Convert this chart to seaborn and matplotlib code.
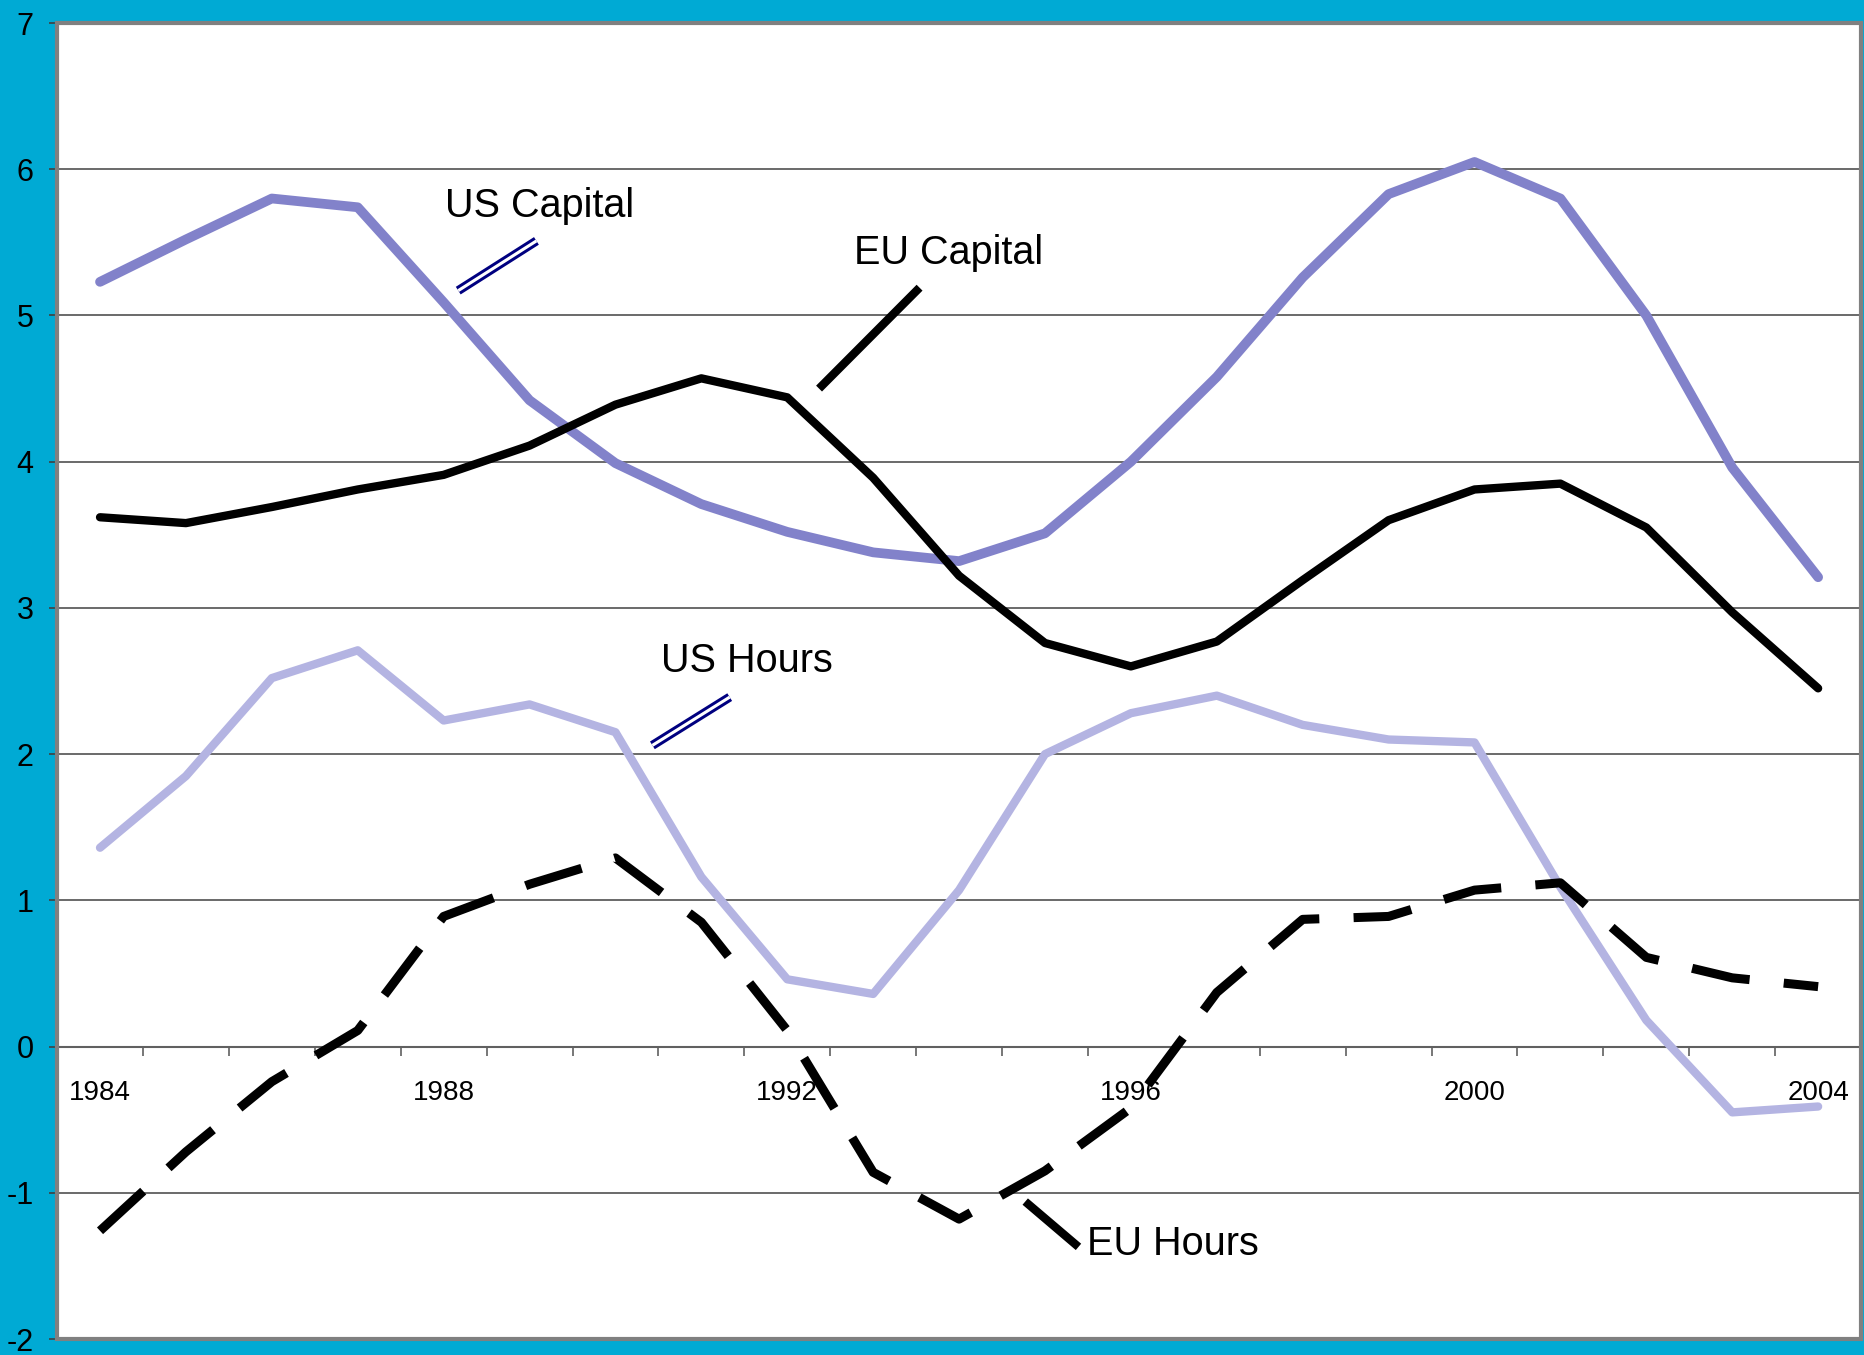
import matplotlib
matplotlib.use("Agg")
import matplotlib.pyplot as plt
import seaborn as sns
import pandas as pd
from matplotlib.patches import Rectangle

years = list(range(1984, 2005))

us_capital = [5.23, 5.52, 5.80, 5.74, 5.09, 4.42, 3.99, 3.71, 3.52, 3.38, 3.32,
              3.51, 4.00, 4.58, 5.26, 5.83, 6.05, 5.80, 5.00, 3.96, 3.21]
eu_capital = [3.62, 3.58, 3.69, 3.81, 3.91, 4.11, 4.39, 4.57, 4.44, 3.89, 3.22,
              2.76, 2.60, 2.77, 3.19, 3.60, 3.81, 3.85, 3.55, 2.97, 2.45]
us_hours = [1.36, 1.85, 2.52, 2.71, 2.23, 2.34, 2.15, 1.16, 0.46, 0.36, 1.07,
            2.00, 2.28, 2.40, 2.20, 2.10, 2.08, 1.09, 0.18, -0.45, -0.41]
eu_hours = [-1.26, -0.72, -0.24, 0.11, 0.89, 1.11, 1.29, 0.85, 0.11, -0.86, -1.18,
            -0.85, -0.42, 0.37, 0.87, 0.89, 1.07, 1.12, 0.61, 0.47, 0.41]

y_ticks = [-2, -1, 0, 1, 2, 3, 4, 5, 6, 7]
x_labels = [1984, 1988, 1992, 1996, 2000, 2004]

df = pd.DataFrame({"year": years, "US Capital": us_capital, "EU Capital": eu_capital,
                   "US Hours": us_hours, "EU Hours": eu_hours})

sns.set_style("white")
plt.rcParams["font.family"] = ["Liberation Sans", "DejaVu Sans"]
plt.rcParams["text.color"] = "black"
plt.rcParams["xtick.color"] = "black"
plt.rcParams["ytick.color"] = "black"

fig = plt.figure(figsize=(18.65, 13.55), dpi=100)
fig.patch.set_facecolor("#00AAD4")
ax = fig.add_axes([0.0306, 0.0118, 0.9673, 0.9712])
ax.set_facecolor("white")

# grid lines first
for v in y_ticks[1:-1]:
    ax.axhline(v, color="#505050", lw=1.2, zorder=1)

sns.lineplot(data=df, x="year", y="US Hours", ax=ax, color="#B4B4E2", lw=6, zorder=3)
sns.lineplot(data=df, x="year", y="US Capital", ax=ax, color="#8282CA", lw=7, zorder=3)
sns.lineplot(data=df, x="year", y="EU Capital", ax=ax, color="black", lw=6, zorder=4)
sns.lineplot(data=df, x="year", y="EU Hours", ax=ax, color="black", lw=6.5, zorder=4,
             dashes=False, linestyle=(0, (6.5, 3.8)))
ax.lines[-1].set_dash_capstyle("butt")

ax.set_xlim(1983.5, 2004.5)
ax.set_ylim(-2, 7)
ax.set_xlabel("")
ax.set_ylabel("")

# y axis
ax.set_yticks(y_ticks)
ax.set_yticklabels([str(v) for v in y_ticks])
ax.tick_params(axis="y", direction="out", length=6, width=1.2, color="#404040",
               labelsize=22, pad=11, left=True)

# x axis drawn on the zero line
ax.spines["bottom"].set_position(("data", 0))
ax.spines["bottom"].set_color("#606060")
ax.spines["bottom"].set_linewidth(1.5)
ax.set_xticks([y - 0.5 for y in years] + [2004.5])
ax.set_xticklabels([])
ax.set_xticks(x_labels, minor=True)
ax.set_xticklabels([str(v) for v in x_labels], minor=True)
ax.tick_params(axis="x", which="major", direction="out", length=6.5, width=1.2,
               color="#606060", bottom=True)
ax.tick_params(axis="x", which="minor", length=0, labelsize=20, pad=24)

ax.spines["left"].set_color("#404040")
ax.spines["left"].set_linewidth(1.5)
for s in ["top", "right"]:
    ax.spines[s].set_visible(False)
ax.add_patch(Rectangle((0, 0), 1, 1, transform=ax.transAxes, fill=False,
                       edgecolor="#808080", lw=3, clip_on=False, zorder=5))

# labels with pointers
def double_pointer(x0, y0, x1, y1):
    ax.plot([x0, x1], [y0, y1], color="#000080", lw=6.5, zorder=6, solid_capstyle="butt")
    ax.plot([x0, x1], [y0, y1], color="white", lw=2.2, zorder=7, solid_capstyle="butt")

double_pointer(1988.17, 5.17, 1989.08, 5.51)
ax.text(1989.12, 5.75, "US Capital", fontsize=28.5, ha="center", va="center", zorder=8)

ax.plot([1992.37, 1993.54], [4.50, 5.19], color="black", lw=6, zorder=6, solid_capstyle="butt")
ax.text(1993.88, 5.43, "EU Capital", fontsize=28.5, ha="center", va="center", zorder=8)

double_pointer(1990.43, 2.06, 1991.33, 2.39)
ax.text(1991.53, 2.64, "US Hours", fontsize=28.5, ha="center", va="center", zorder=8)

ax.plot([1994.77, 1995.39], [-1.06, -1.37], color="black", lw=6, zorder=6, solid_capstyle="butt")
ax.text(1996.49, -1.35, "EU Hours", fontsize=28.5, ha="center", va="center", zorder=8)

fig.savefig("out.png", dpi=100, facecolor=fig.get_facecolor())
